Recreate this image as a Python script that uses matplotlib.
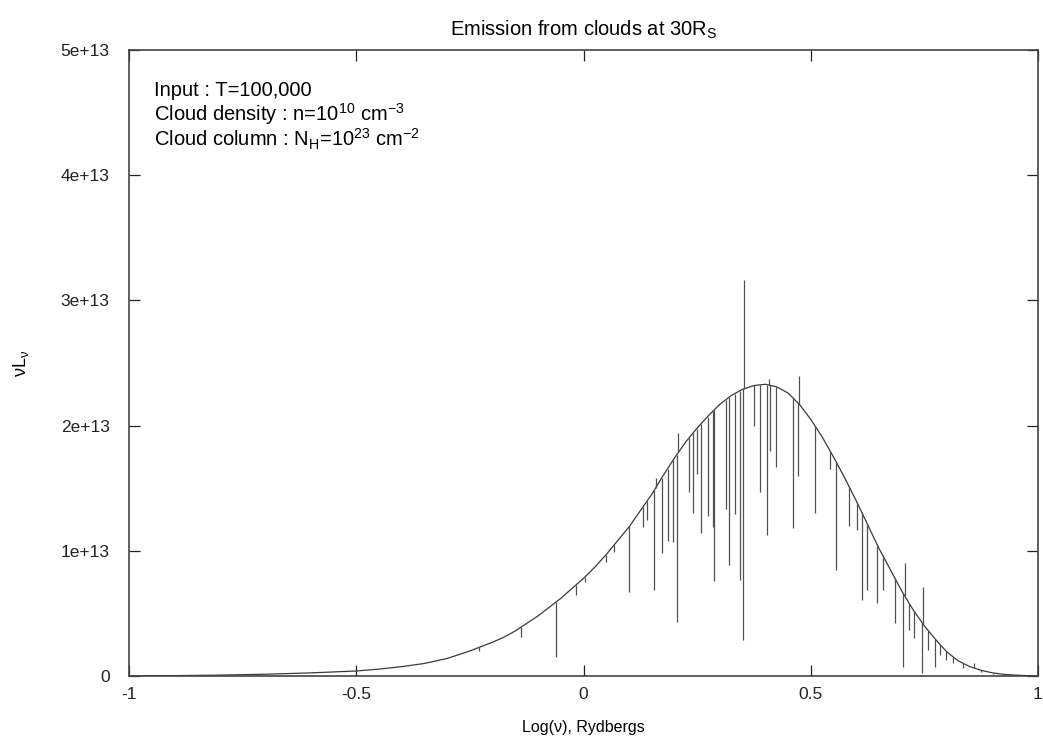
import numpy as np
import matplotlib
matplotlib.use("Agg")
import matplotlib.pyplot as plt

plt.rcParams["font.family"] = ["Liberation Sans", "DejaVu Sans"]
plt.rcParams["mathtext.fontset"] = "custom"
plt.rcParams["mathtext.rm"] = "Liberation Sans"
plt.rcParams["mathtext.it"] = "Liberation Sans"
plt.rcParams["mathtext.default"] = "regular"

# smooth continuum, units of 1e13
cont_x = [-1.0, -0.9, -0.8, -0.7, -0.6, -0.5, -0.45, -0.4, -0.35, -0.3, -0.25, -0.2,
          -0.175, -0.15, -0.125, -0.1, -0.075, -0.05, -0.025, 0.0, 0.025, 0.05, 0.075,
          0.1, 0.125, 0.15, 0.175, 0.2, 0.225, 0.25, 0.275, 0.3, 0.325, 0.35, 0.375,
          0.4, 0.425, 0.45, 0.475, 0.5, 0.525, 0.55, 0.575, 0.6, 0.625, 0.65, 0.675,
          0.7, 0.725, 0.75, 0.775, 0.8, 0.825, 0.85, 0.875, 0.9, 0.925, 0.95, 0.975, 1.0]
cont_y = [0.0, 0.003, 0.007, 0.014, 0.025, 0.04, 0.055, 0.075, 0.10, 0.14, 0.20, 0.27,
          0.31, 0.36, 0.42, 0.48, 0.55, 0.62, 0.70, 0.78, 0.87, 0.97, 1.08,
          1.19, 1.32, 1.45, 1.60, 1.74, 1.87, 1.98, 2.08, 2.17, 2.24, 2.29, 2.32,
          2.33, 2.31, 2.26, 2.17, 2.05, 1.91, 1.75, 1.58, 1.40, 1.21, 1.02, 0.85,
          0.68, 0.53, 0.40, 0.29, 0.19, 0.12, 0.075, 0.045, 0.025, 0.013, 0.007, 0.003, 0.001]

# absorption lines: position and bottom value
abs_x = [-0.23, -0.137, -0.06, -0.016, 0.003, 0.049, 0.067, 0.101, 0.13, 0.14,
         0.156, 0.172, 0.185, 0.197, 0.205, 0.232, 0.241, 0.249, 0.259, 0.273,
         0.286, 0.288, 0.313, 0.321, 0.333, 0.345, 0.352, 0.376, 0.389, 0.403,
         0.41, 0.424, 0.46, 0.472, 0.509, 0.543, 0.556, 0.584, 0.601, 0.612,
         0.623, 0.645, 0.658, 0.685, 0.703, 0.716, 0.728, 0.745, 0.759, 0.773,
         0.785, 0.798, 0.814, 0.836, 0.875, 0.9]
abs_y = [0.2, 0.31, 0.15, 0.65, 0.75, 0.91, 0.99, 0.67, 1.19, 1.25,
         0.69, 0.98, 1.08, 1.07, 0.43, 1.47, 1.3, 1.61, 1.14, 1.28,
         1.19, 0.76, 1.33, 0.89, 1.29, 0.77, 0.29, 2.0, 1.47, 1.13,
         1.8, 1.67, 1.18, 1.6, 1.3, 1.65, 0.85, 1.2, 1.17, 0.61,
         0.69, 0.58, 0.69, 0.42, 0.07, 0.37, 0.3, 0.02, 0.21, 0.07,
         0.17, 0.13, 0.1, 0.06, 0.035, 0.015]

# emission lines: position and top value
emi_x = [0.159, 0.209, 0.354, 0.408, 0.474, 0.707, 0.747, 0.86]
emi_y = [1.58, 1.94, 3.16, 2.37, 2.4, 0.9, 0.71, 0.1]

scale = 1e13
line_col = "#3a3a3a"

fig = plt.figure(figsize=(10.43, 7.44), dpi=100)
ax = fig.add_axes([129 / 1043, 68 / 744, 909 / 1043, 626 / 744])

cx = np.array(cont_x)
cy = np.array(cont_y) * scale
ax.plot(cx, cy, color=line_col, lw=0.9)

axs = np.array(abs_x)
ax.vlines(axs, np.array(abs_y) * scale, np.interp(axs, cx, cy), color="#505050", lw=0.9)
ex = np.array(emi_x)
ax.vlines(ex, np.interp(ex, cx, cy), np.array(emi_y) * scale, color="#505050", lw=0.9)

ax.set_xlim(-1, 1)
ax.set_ylim(0, 5e13)
ax.set_xticks([-1, -0.5, 0, 0.5, 1])
ax.set_xticklabels(["-1", "-0.5", "0", "0.5", "1"])
ax.set_yticks([0, 1e13, 2e13, 3e13, 4e13, 5e13])
ax.set_yticklabels(["0", "1e+13", "2e+13", "3e+13", "4e+13", "5e+13"])
ax.tick_params(direction="in", top=True, right=True, length=8, width=0.9,
               labelsize=12.5, colors="#222222")
ax.tick_params(axis="y", pad=14)
ax.tick_params(axis="x", pad=8)
for s in ax.spines.values():
    s.set_color("#444444")
    s.set_linewidth(1.2)

ax.set_title("Emission from clouds at 30R$_S$", fontsize=14.5, pad=10)
ax.set_xlabel("Log(ν), Rydbergs", fontsize=11.5, labelpad=13)
ax.set_ylabel("νL$_ν$", fontsize=13)
ax.yaxis.set_label_coords(-0.108, 0.5)

ax.text(0.028, 0.935, "Input : T=100,000", transform=ax.transAxes, fontsize=14.5, va="center")
ax.text(0.028, 0.897, "Cloud density : n=10$^{10}$ cm$^{-3}$", transform=ax.transAxes,
        fontsize=14.5, va="center")
ax.text(0.028, 0.857, "Cloud column : N$_H$=10$^{23}$ cm$^{-2}$", transform=ax.transAxes,
        fontsize=14.5, va="center")

fig.savefig("out.png", dpi=100)
